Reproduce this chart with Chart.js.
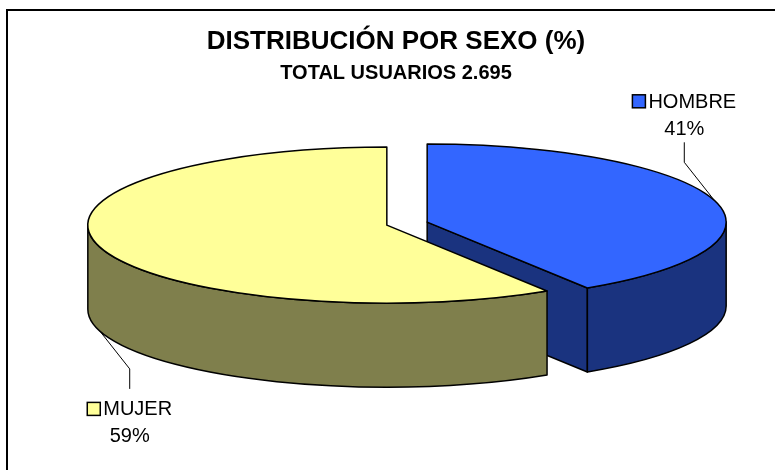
<!DOCTYPE html>
<html>
<head>
<meta charset="utf-8">
<script src="https://cdn.jsdelivr.net/npm/chart.js@4.4.1/dist/chart.umd.min.js"></script>
<style>
    html, body { margin: 0; padding: 0; background: #fff; }
    #wrap { width: 775px; height: 470px; }
</style>
</head>
<body>
<div id="wrap"><canvas id="sexChart" width="775" height="470"></canvas></div>
<script>
// data
const categories = ['HOMBRE', 'MUJER']
const percentValues = [41, 59]
const titleText = 'DISTRIBUCIÓN POR SEXO (%)'
const subtitleText = 'TOTAL USUARIOS 2.695'

// styles
const topColors = ['#3366FF', '#FFFF99']
const sideColors = ['#1A337F', '#7F7F4C']
const fontFamily = "'Liberation Sans', Arial, sans-serif"

// 3d look
const tilt = 0.261       // vertical squash of the pie
const depth = 84         // height of the pie side
const pieShiftX = 11     // pie sits a bit right of the title

function sliceGeometry(el, i) {
    const mid = (el.startAngle + el.endAngle) / 2
    const d = el.options.offset || 0
    return {
        cx: el.x + pieShiftX + Math.cos(mid) * d,
        cy: el.y + Math.sin(mid) * d * tilt,
        rx: el.outerRadius,
        ry: el.outerRadius * tilt,
        a1: el.startAngle,
        a2: el.endAngle,
        mid: mid,
        top: topColors[i],
        side: sideColors[i]
    }
}

// parts of the arc that face the viewer (lower half of the ellipse)
function frontRanges(a1, a2) {
    const out = []
    for (let k = -1; k <= 1; k++) {
        const lo = Math.max(a1, k * 2 * Math.PI)
        const hi = Math.min(a2, k * 2 * Math.PI + Math.PI)
        if (hi > lo) out.push([lo, hi])
    }
    return out
}

function drawSides(ctx, s) {
    ctx.fillStyle = s.side
    const walls = [[s.a1, s.a1 - Math.PI / 2], [s.a2, s.a2 + Math.PI / 2]]
    walls.forEach(([a, normal]) => {
        if (Math.sin(normal) <= 0.01) return
        const px = s.cx + s.rx * Math.cos(a)
        const py = s.cy + s.ry * Math.sin(a)
        ctx.beginPath()
        ctx.moveTo(s.cx, s.cy)
        ctx.lineTo(px, py)
        ctx.lineTo(px, py + depth)
        ctx.lineTo(s.cx, s.cy + depth)
        ctx.closePath()
        ctx.fill()
        ctx.stroke()
    })
    frontRanges(s.a1, s.a2).forEach(([lo, hi]) => {
        ctx.beginPath()
        ctx.ellipse(s.cx, s.cy, s.rx, s.ry, 0, lo, hi)
        ctx.ellipse(s.cx, s.cy + depth, s.rx, s.ry, 0, hi, lo, true)
        ctx.closePath()
        ctx.fill()
        ctx.stroke()
    })
}

function drawTop(ctx, s) {
    ctx.fillStyle = s.top
    ctx.beginPath()
    ctx.moveTo(s.cx, s.cy)
    ctx.ellipse(s.cx, s.cy, s.rx, s.ry, 0, s.a1, s.a2)
    ctx.closePath()
    ctx.fill()
    ctx.stroke()
}

const framePlugin = {
    id: 'frame',
    beforeDraw(chart) {
        const ctx = chart.ctx
        ctx.save()
        ctx.fillStyle = '#fff'
        ctx.fillRect(0, 0, chart.width, chart.height)
        ctx.strokeStyle = '#000'
        ctx.lineWidth = 2
        ctx.strokeRect(7, 10, chart.width + 20, chart.height + 20)
        ctx.restore()
    }
}

const pie3dPlugin = {
    id: 'pie3d',
    beforeDatasetsDraw(chart) {
        const ctx = chart.ctx
        const slices = chart.getDatasetMeta(0).data.map((el, i) => sliceGeometry(el, i))
        // back slices first
        slices.sort((a, b) => Math.sin(a.mid) - Math.sin(b.mid))
        ctx.save()
        ctx.lineWidth = 1.5
        ctx.strokeStyle = '#000'
        ctx.lineJoin = 'round'
        slices.forEach(s => {
            drawSides(ctx, s)
            drawTop(ctx, s)
        })
        ctx.restore()
        return false
    }
}

const sliceLabelPlugin = {
    id: 'sliceLabels',
    afterDraw(chart) {
        const ctx = chart.ctx
        ctx.save()
        chart.getDatasetMeta(0).data.forEach((el, i) => {
            const s = sliceGeometry(el, i)
            const front = Math.sin(s.mid) > 0
            const dir = front ? 1 : -1
            const ax = s.cx + s.rx * Math.cos(s.mid)
            const ay = s.cy + s.ry * Math.sin(s.mid) + (front ? depth : 0)
            const ex = ax - Math.sign(Math.cos(s.mid)) * 30
            const ey = ay + dir * 38
            const tipY = ey + dir * 20

            // leader line
            ctx.strokeStyle = '#000'
            ctx.lineWidth = 1
            ctx.beginPath()
            ctx.moveTo(ax, ay)
            ctx.lineTo(ex, ey)
            ctx.lineTo(ex, tipY)
            ctx.stroke()

            const line1Y = front ? tipY + 20 : tipY - 41
            const line2Y = line1Y + 27
            ctx.font = '20px ' + fontFamily
            ctx.textBaseline = 'middle'

            const name = chart.data.labels[i]
            const w = ctx.measureText(name).width
            const box = 13, gap = 3
            const startX = ex - (box + gap + w) / 2
            ctx.fillStyle = s.top
            ctx.fillRect(startX, line1Y - box / 2, box, box)
            ctx.lineWidth = 1.5
            ctx.strokeRect(startX, line1Y - box / 2, box, box)
            ctx.fillStyle = '#000'
            ctx.textAlign = 'left'
            ctx.fillText(name, startX + box + gap, line1Y + 1)
            ctx.textAlign = 'center'
            ctx.fillText(chart.data.datasets[0].data[i] + '%', ex, line2Y + 1)
        })
        ctx.restore()
    }
}

const ctx = document.getElementById('sexChart').getContext('2d')
new Chart(ctx, {
    type: 'pie',
    data: {
        labels: categories,
        datasets: [{
            data: percentValues,
            backgroundColor: topColors,
            borderColor: '#000',
            borderWidth: 1.5,
            offset: 21
        }]
    },
    options: {
        responsive: false,
        animation: false,
        radius: 299,
        layout: {
            padding: { left: 17, right: 0, top: 0, bottom: 108 }
        },
        plugins: {
            legend: { display: false },
            tooltip: { enabled: false },
            title: {
                display: true,
                text: titleText,
                color: '#000',
                font: { family: fontFamily, size: 26, weight: 'bold' },
                padding: { top: 26, bottom: 0 }
            },
            subtitle: {
                display: true,
                text: subtitleText,
                color: '#000',
                font: { family: fontFamily, size: 20, weight: 'bold' },
                padding: { top: 4, bottom: 0 }
            }
        }
    },
    plugins: [framePlugin, pie3dPlugin, sliceLabelPlugin]
})
</script>
</body>
</html>
